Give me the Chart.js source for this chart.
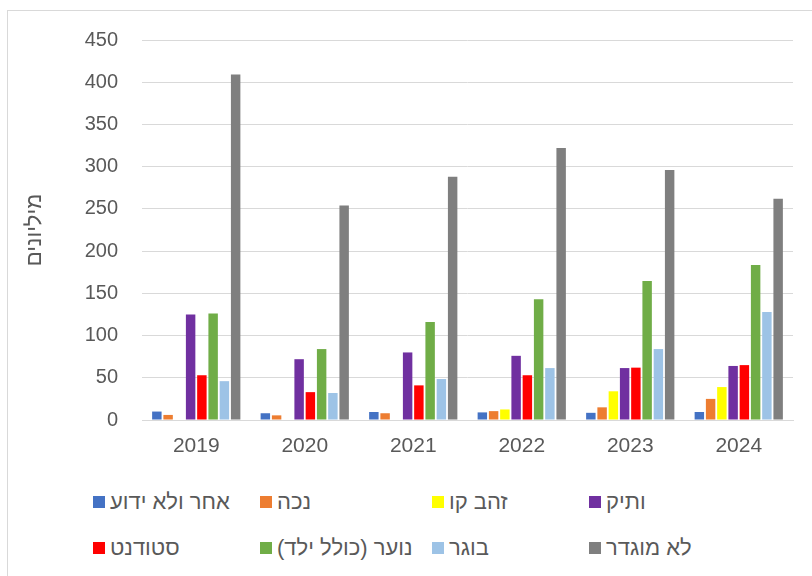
<!DOCTYPE html>
<html>
<head>
<meta charset="utf-8">
<script src="https://cdn.jsdelivr.net/npm/chart.js@4.4.1/dist/chart.umd.min.js"></script>
<style>
  html, body { margin: 0; padding: 0; background: #fff; }
  body { width: 812px; height: 576px; position: relative; overflow: hidden; font-family: "Liberation Sans", "DejaVu Sans", sans-serif; }
  #frame { position: absolute; left: 7px; top: 10px; width: 830px; height: 600px; border: 1px solid #d9d9d9; box-sizing: border-box; }
  #wrap { position: absolute; left: 0; top: 0; width: 812px; height: 470px; }
  #legend { position: absolute; left: 0; top: 489px; width: 812px; }
  .item { position: absolute; display: flex; align-items: center; color: #595959; font-size: 22px; white-space: nowrap; }
  .item i { display: inline-block; width: 12px; height: 12px; margin-right: 5px; }
  .item span { direction: rtl; unicode-bidi: isolate; }
</style>
</head>
<body>
<div id="frame"></div>
<div id="wrap"><canvas id="chart"></canvas></div>
<div id="legend"></div>
<script>
/* ================================
   DATA
================================ */
const years = ["2019", "2020", "2021", "2022", "2023", "2024"];

const seriesNames = ["אחר ולא ידוע", "נכה", "זהב קו ", "ותיק", "סטודנט", "נוער (כולל ילד)", "בוגר", "לא מוגדר"];
const seriesColors = ["#4472C4", "#ED7D31", "#FFFF00", "#7030A0", "#FF0000", "#70AD47", "#9DC3E6", "#7F7F7F"];

const otherUnknown = [10, 8, 9.5, 9, 8.5, 9.5];
const disabled     = [6, 5.5, 8, 10.5, 15, 25];
const goldLine     = [null, null, null, 12.5, 34, 39];
const senior       = [125, 72, 80, 76, 61.5, 64];
const student      = [53, 33, 41, 53, 62, 65];
const youth        = [126, 84, 116, 143, 164.5, 183.5];
const adult        = [46, 32, 48.5, 61.5, 84, 128];
const undefinedCat = [409, 254, 288, 322, 296, 262];

const seriesValues = [otherUnknown, disabled, goldLine, senior, student, youth, adult, undefinedCat];

const yTitle = "מיליונים";

/* ================================
   CHART
================================ */
const FONT = "'Liberation Sans', 'DejaVu Sans', sans-serif";
const TEXT = "#595959";

const datasets = seriesNames.map((name, i) => ({
  label: name,
  data: seriesValues[i],
  backgroundColor: seriesColors[i],
  borderWidth: 0,
  categoryPercentage: 0.83,
  barPercentage: 0.84
}));

new Chart(document.getElementById("chart"), {
  type: "bar",
  data: { labels: years, datasets },
  options: {
    responsive: true,
    maintainAspectRatio: false,
    animation: false,
    layout: { padding: { top: 40, right: 19, bottom: 0, left: 0 } },
    plugins: { legend: { display: false }, tooltip: { enabled: false } },
    scales: {
      x: {
        grid: { display: false, drawTicks: false },
        border: { color: "#d9d9d9", width: 1 },
        ticks: { color: TEXT, font: { family: FONT, size: 21 }, padding: 14 },
        afterFit: s => { s.height = 50; }
      },
      y: {
        min: 0,
        max: 450,
        afterFit: s => { s.width = 142; },
        grid: { color: "#d9d9d9", lineWidth: 1, drawTicks: false },
        border: { display: false },
        ticks: { stepSize: 50, color: TEXT, font: { family: FONT, size: 20 }, padding: 24 },
        title: {
          display: true,
          text: yTitle,
          color: TEXT,
          font: { family: FONT, size: 22 },
          padding: { top: 22, bottom: 0 }
        }
      }
    }
  }
});

/* ================================
   LEGEND (4 columns x 2 rows)
================================ */
const legend = document.getElementById("legend");
const colX = [93, 260, 432, 589];
seriesNames.forEach((name, i) => {
  const div = document.createElement("div");
  div.className = "item";
  div.style.left = colX[i % 4] + "px";
  div.style.top = (Math.floor(i / 4) * 46) + "px";
  div.innerHTML = `<i style="background:${seriesColors[i]}"></i><span>${name}</span>`;
  legend.appendChild(div);
});
</script>
</body>
</html>
